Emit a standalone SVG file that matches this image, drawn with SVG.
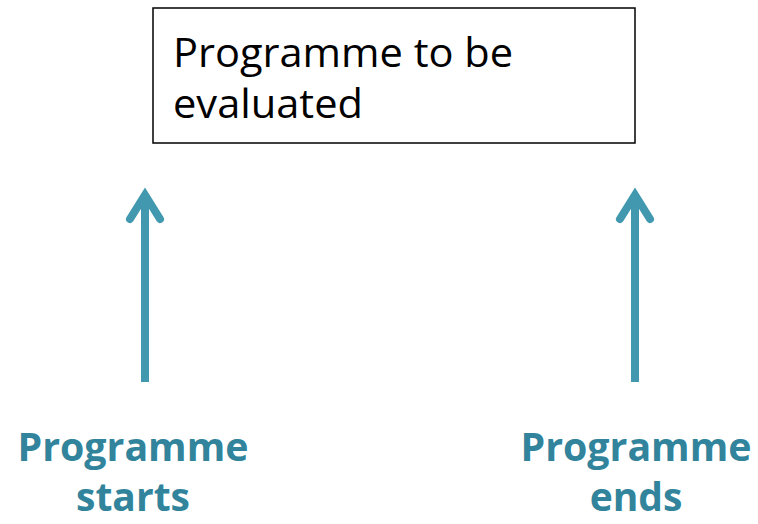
<svg xmlns="http://www.w3.org/2000/svg" width="758" height="524" viewBox="0 0 758 524">
<defs>
<style>
.box{fill:#fff;stroke:#000;stroke-width:1.5}
.bt{font-family:"Open Sans","Liberation Sans",sans-serif;font-size:40px;fill:#000}
.lbl{font-family:"Open Sans","Liberation Sans",sans-serif;font-size:39px;font-weight:bold;fill:#31849b;text-anchor:middle}
.arr{stroke:#4198af;stroke-width:8;fill:none;stroke-linecap:butt}
.head{stroke:#4198af;stroke-width:8;fill:none;stroke-linecap:round;stroke-linejoin:miter}
</style>
</defs>
<rect width="758" height="524" fill="#fff"/>
<g id="programme">
<rect class="box" x="153" y="8" width="482" height="135"/>
<text class="bt" x="173" y="67" textLength="340" lengthAdjust="spacingAndGlyphs">Programme to be</text>
<text class="bt" x="173" y="118" textLength="190" lengthAdjust="spacingAndGlyphs">evaluated</text>
</g>
<g id="connectors">
<line class="arr" x1="145" y1="382" x2="145" y2="196"/>
<polyline class="head" points="130,219 145,195 160,219"/>
<line class="arr" x1="635" y1="382" x2="635" y2="196"/>
<polyline class="head" points="620,219 635,195 650,219"/>
</g>
<g id="starts">
<text class="lbl" x="133" y="461" textLength="231" lengthAdjust="spacingAndGlyphs">Programme</text>
<text class="lbl" x="133" y="511">starts</text>
</g>
<g id="ends">
<text class="lbl" x="636" y="461" textLength="231" lengthAdjust="spacingAndGlyphs">Programme</text>
<text class="lbl" x="636" y="511">ends</text>
</g>
</svg>
